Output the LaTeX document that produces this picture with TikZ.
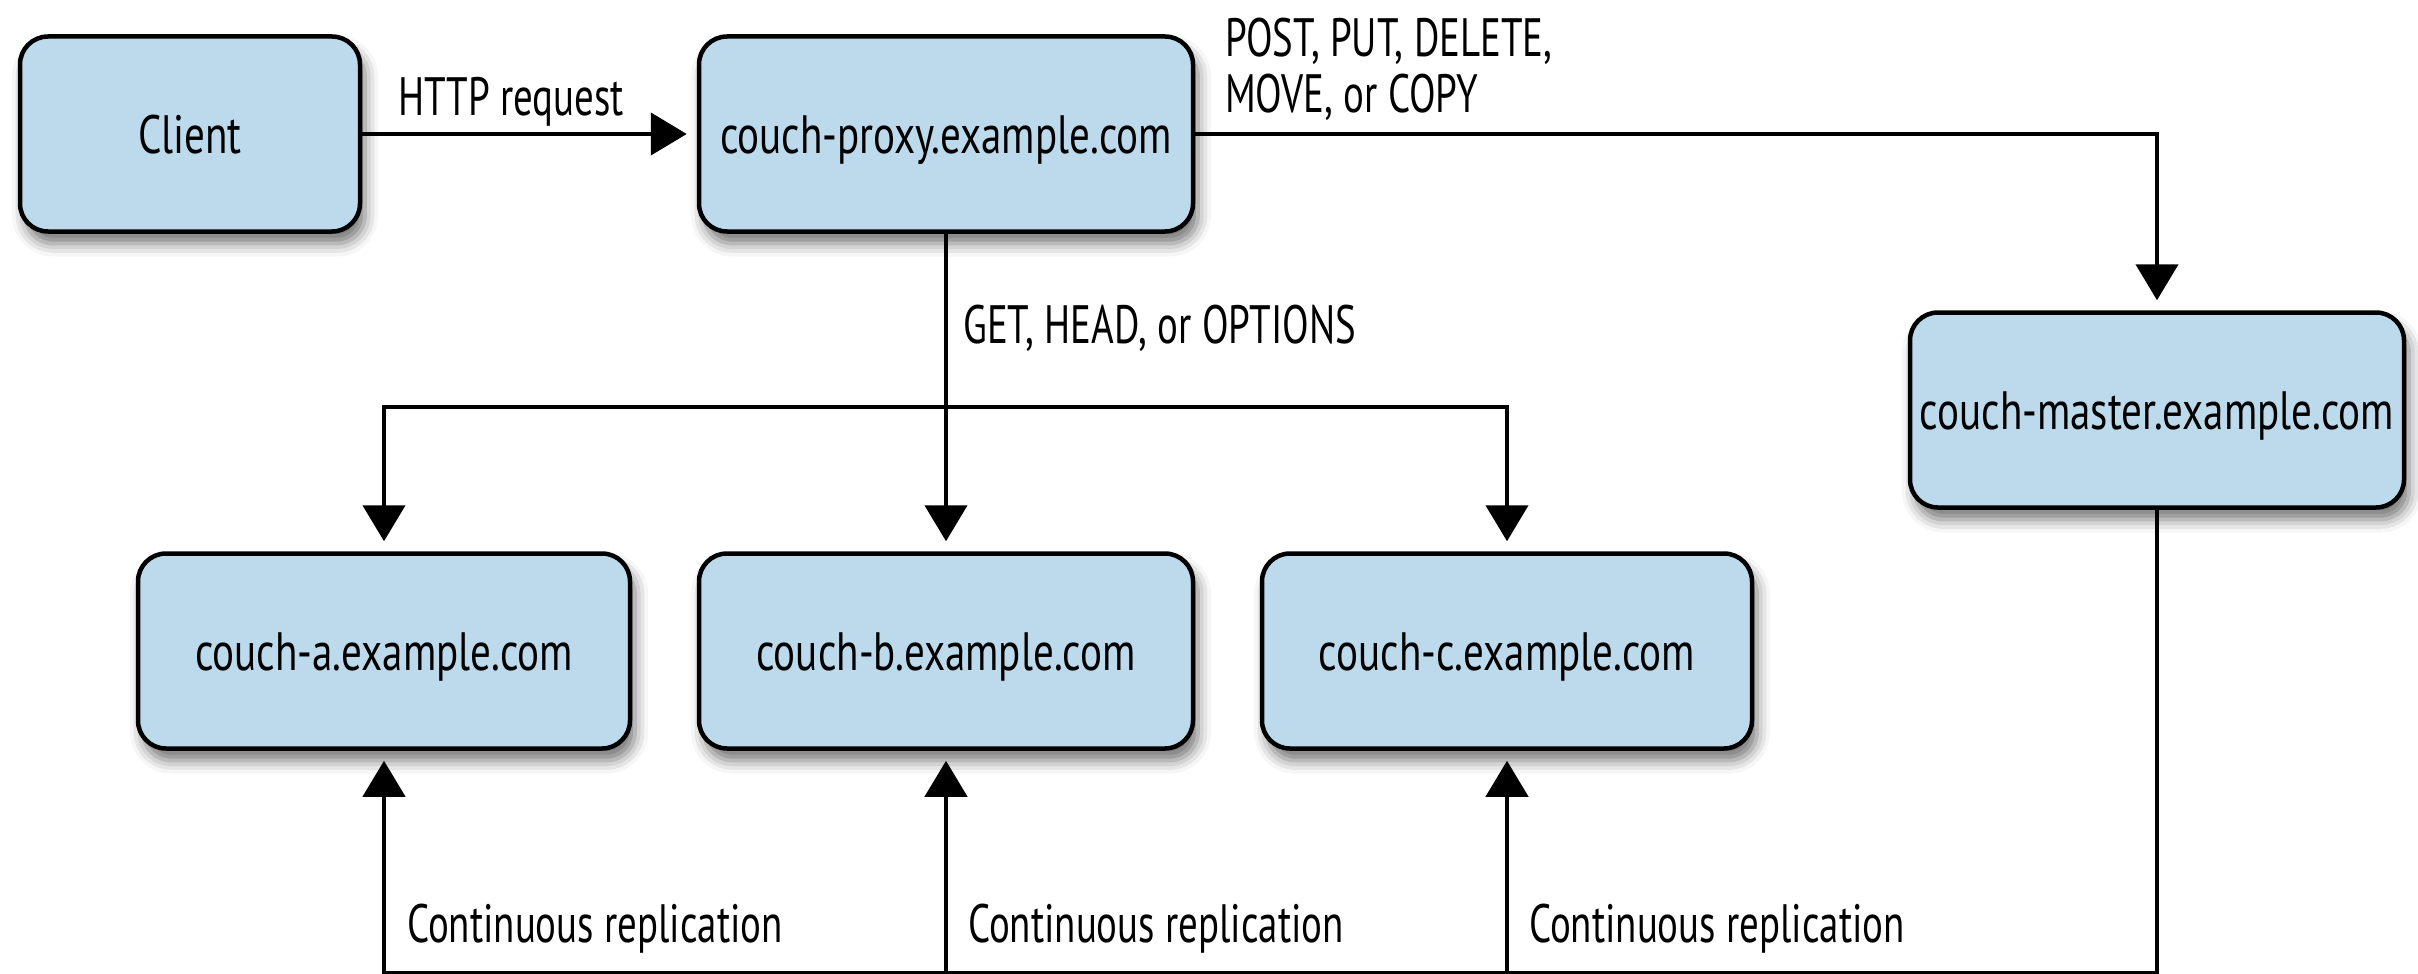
\documentclass[tikz,border=0pt]{standalone}
\usepackage{fontspec}
\setmainfont{PT Sans}[FakeStretch=0.76]
\newfontfamily\lblfont{PT Sans}[FakeStretch=0.72]
\usetikzlibrary{arrows.meta,shadows.blur}
\definecolor{boxblue}{RGB}{189,218,236}
\begin{document}
\begin{tikzpicture}[x=1pt,y=-1pt,
  box/.style={draw=black, line width=4.5pt, fill=boxblue, rounded corners=28pt,
    minimum height=195pt, inner sep=0pt, text height=39pt, text depth=0pt,
    font=\fontsize{54}{60}\selectfont,
    blur shadow={shadow xshift=5pt, shadow yshift=-12pt, shadow blur radius=13pt, shadow opacity=55}},
  conn/.style={line width=4.5pt, line cap=rect},
  arr/.style={line width=4.5pt, -{Triangle[length=36pt,width=42pt]}, shorten >=10pt},
  lbl/.style={font=\lblfont\fontsize{54}{60}\selectfont, inner sep=0pt, anchor=base west}]
\useasboundingbox (0,0) rectangle (2418,974);
\node[box, minimum width=340] (client) at (190,134) {Client};
\node[box, minimum width=494] (proxy) at (946,134) {couch-proxy.example.com};
\node[box, minimum width=494] (master) at (2157,410) {couch-master.example.com};
\node[box, minimum width=492] (a) at (384,651) {couch-a.example.com};
\node[box, minimum width=494] (b) at (946,651) {couch-b.example.com};
\node[box, minimum width=490] (c) at (1507,651) {couch-c.example.com};
% connectors
\draw[arr] (client) -- (proxy);
\coordinate (pm) at (master.north |- proxy.east);
\draw[arr] (proxy.east) -- (pm) -- (master.north);
\draw[arr] (proxy.south) -- (b.north);
\coordinate (hl) at (a.north |- 0,407);
\coordinate (hr) at (c.north |- 0,407);
\draw[conn] (hl) -- (hr);
\draw[arr] (hl) -- (a.north);
\draw[arr] (hr) -- (c.north);
\coordinate (bl) at (a.south |- 0,973);
\coordinate (bm) at (b.south |- 0,973);
\coordinate (bc) at (c.south |- 0,973);
\coordinate (br) at (master.south |- 0,973);
\draw[conn] (master.south) -- (br) -- (bl);
\draw[arr] (bl) -- (a.south);
\draw[arr] (bm) -- (b.south);
\draw[arr] (bc) -- (c.south);
% labels
\node[lbl] (lhttp) at (398,115) {HTTP request};
\node[lbl] (lpost) at (1225,57) {POST, PUT, DELETE,};
\node[lbl] (lmove) at (1225,113) {MOVE, or COPY};
\node[lbl] (lget) at (963,343) {GET, HEAD, or OPTIONS};
\node[lbl] (lca) at (407,942) {Continuous replication};
\node[lbl] (lcb) at (968,942) {Continuous replication};
\node[lbl] (lcc) at (1529,942) {Continuous replication};
\end{tikzpicture}
\end{document}
